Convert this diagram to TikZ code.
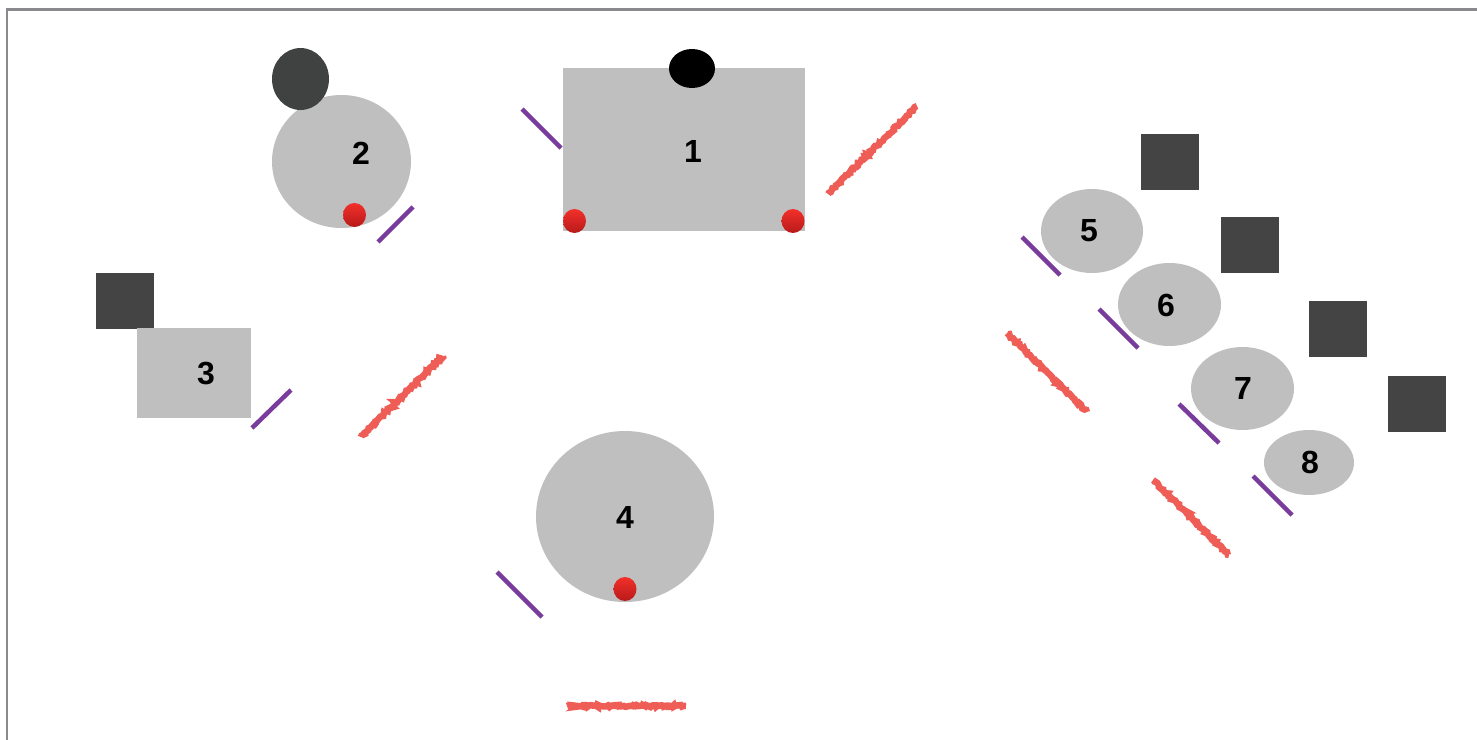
\documentclass[tikz,border=0pt]{standalone}
\usepackage{fontspec}
\setmainfont{Liberation Sans}
\usetikzlibrary{shapes.geometric,decorations.pathmorphing}
\definecolor{shapegray}{HTML}{BFBFBF}
\definecolor{darkbox}{HTML}{444444}
\definecolor{darkdisc}{HTML}{404242}
\definecolor{barpurple}{HTML}{7A3C9C}
\definecolor{wavered}{HTML}{EE5E57}
\definecolor{dottop}{HTML}{F2302A}
\definecolor{dotbot}{HTML}{B81A1A}
\definecolor{framegray}{HTML}{8A8A8E}
\tikzset{
  rectshape/.style={rectangle, fill=shapegray, inner sep=0pt, minimum width=#1},
  ovalshape/.style={ellipse, fill=shapegray, inner sep=0pt},
  darksq/.style={rectangle, fill=darkbox, inner sep=0pt, minimum width=58pt, minimum height=56pt},
  reddot/.style={ellipse, inner sep=0pt, minimum width=23pt, minimum height=24pt, top color=dottop, bottom color=dotbot, shading angle=0},
  numlabel/.style={inner sep=0pt, font=\fontsize{32}{36}\selectfont\bfseries},
  purplebar/.style={draw=barpurple, line width=4.5pt},
  roughline/.style={draw=wavered, line width=6.5pt, line join=miter, line cap=butt,
    decorate, decoration={random steps, segment length=1.6pt, amplitude=1.1pt}},
}
\begin{document}
\begin{tikzpicture}[x=1pt, y=-1pt]
\pgfmathsetseed{7}
\useasboundingbox (0,0) rectangle (1477,739);
\clip (0,0) rectangle (1477,739);
\fill[white] (0,0) rectangle (1477,739);
% frame
\draw[framegray, line width=2.5pt] (7,760) -- (7,9.5) -- (1500,9.5);

% element 1
\node[rectshape=242pt, minimum height=163pt] (r1) at (684,149.5) {};
\node[ellipse, fill=black, inner sep=0pt, minimum width=46pt, minimum height=39pt] (h1) at (692,68.5) {};
\node[reddot] (d1a) at (574.5,221) {};
\node[reddot] (d1b) at (793,221) {};
\node[numlabel] (l1) at (693,151) {1};

% element 2
\node[ovalshape, minimum width=139pt, minimum height=133pt] (c2) at (341.5,161.5) {};
\node[ellipse, fill=darkdisc, inner sep=0pt, minimum width=57pt, minimum height=62pt] (h2) at (300.5,79) {};
\node[reddot] (d2) at (354.5,215) {};
\node[numlabel] (l2) at (361,153) {2};

% element 3
\node[darksq] (s3) at (125,301) {};
\node[rectshape=114pt, minimum height=90pt] (r3) at (194,373) {};
\node[numlabel] (l3) at (206,374) {3};

% element 4
\node[ovalshape, minimum width=178pt, minimum height=171pt] (c4) at (625,516.5) {};
\node[reddot] (d4) at (625,589) {};
\node[numlabel] (l4) at (625,517) {4};

% elements 5-8
\node[darksq] (s5) at (1170,162) {};
\node[ovalshape, minimum width=102pt, minimum height=84pt] (c5) at (1092,231) {};
\node[numlabel] (l5) at (1089,231) {5};

\node[darksq] (s6) at (1250,245) {};
\node[ovalshape, minimum width=103pt, minimum height=83pt] (c6) at (1169.5,304.5) {};
\node[numlabel] (l6) at (1166,305) {6};

\node[darksq] (s7) at (1338,329) {};
\node[ovalshape, minimum width=103pt, minimum height=83pt] (c7) at (1242.5,388.5) {};
\node[numlabel] (l7) at (1243,388) {7};

\node[darksq] (s8) at (1417,404) {};
\node[ovalshape, minimum width=90pt, minimum height=65pt] (c8) at (1309,462.5) {};
\node[numlabel] (l8) at (1310,462) {8};

% purple bars
\draw[purplebar] (522,109) -- (561,148);
\draw[purplebar] (378,242) -- (413,207);
\draw[purplebar] (252,428) -- (291,390);
\draw[purplebar] (497,572) -- (542,617);
\draw[purplebar] (1022,237) -- (1060,275);
\draw[purplebar] (1099,309) -- (1138,348);
\draw[purplebar] (1179,404) -- (1219,443);
\draw[purplebar] (1253,476) -- (1292,515);

% rough red strokes
\draw[roughline] (828,194) -- (917,106);
\draw[roughline] (361,437) -- (443,356);
\draw[roughline] (567,706) -- (686,706);
\draw[roughline] (1007,333) -- (1087,412);
\draw[roughline] (1153,480) -- (1229,555);
\end{tikzpicture}
\end{document}
